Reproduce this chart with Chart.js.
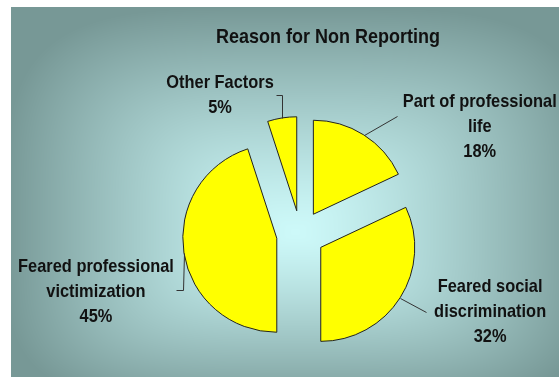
<!DOCTYPE html>
<html>
<head>
<meta charset="utf-8">
<title>Reason for Non Reporting</title>
<script src="https://cdn.jsdelivr.net/npm/chart.js@4/dist/chart.umd.min.js"></script>
<style>
    html, body { margin: 0; padding: 0; background: #ffffff; }
    #wrap { position: relative; width: 559px; height: 377px; }
</style>
</head>
<body>
<div id="wrap"><canvas id="reasonChart" width="559" height="377"></canvas></div>
<script>
// Survey data
const categories = ['Part of professional life', 'Feared social discrimination', 'Feared professional victimization', 'Other Factors'];
const labelLines = [['Part of professional', 'life'], ['Feared social', 'discrimination'], ['Feared professional', 'victimization'], ['Other Factors']];
const percentages = [18, 32, 45, 5];

// How far every slice is pulled out from the centre (px)
const EXPLODE = 24;

// Label placement relative to the outer edge of each slice
const labelLayout = [
    { leader: [[0, 0], [33, -19]], dx: 116, dy: -33 },
    { leader: [[0, 0], [26, 14]], dx: 90, dy: -11 },
    { leader: [[0, 0], [-1, 37], [-8, 37]], dx: -88, dy: 14 },
    { leader: [[0, 0], [0, -23], [-6, -23]], dx: -62, dy: -35 }
];

const FONT = '"Liberation Sans", Arial, sans-serif';

function drawTallText(ctx, text, x, y, size, stretch) {
    ctx.save();
    ctx.translate(x, y);
    ctx.scale(1, stretch);
    ctx.font = `bold ${size}px ${FONT}`;
    ctx.fillText(text, 0, 0);
    ctx.restore();
}

function hexToRgb(hex) {
    const n = parseInt(hex.slice(1), 16);
    return [(n >> 16) & 255, (n >> 8) & 255, n & 255];
}

// Soft rectangular gradient, light in the middle, teal-grey towards the edges
function buildBackground(w, h) {
    const off = document.createElement('canvas');
    off.width = w;
    off.height = h;
    const octx = off.getContext('2d');
    const img = octx.createImageData(w, h);
    const inner = hexToRgb('#cdf9f9');
    const outer = hexToRgb('#779896');
    const cx = 295, cy = 232;
    for (let py = 0; py < h; py++) {
        const dy = py - cy;
        const ny = Math.abs(dy) / (dy < 0 ? 225 : 175);
        for (let px = 0; px < w; px++) {
            const dx = px - cx;
            const nx = Math.abs(dx) / (dx < 0 ? 290 : 300);
            let t = Math.pow(Math.pow(nx, 4) + Math.pow(ny, 4), 0.25);
            t = Math.min(1, Math.pow(t, 1.25));
            const i = (py * w + px) * 4;
            img.data[i] = inner[0] + (outer[0] - inner[0]) * t;
            img.data[i + 1] = inner[1] + (outer[1] - inner[1]) * t;
            img.data[i + 2] = inner[2] + (outer[2] - inner[2]) * t;
            img.data[i + 3] = 255;
        }
    }
    octx.putImageData(img, 0, 0);
    return off;
}

const panelBackground = {
    id: 'panelBackground',
    beforeDraw(chart) {
        const ctx = chart.ctx;
        if (!this.image) this.image = buildBackground(chart.width, chart.height);
        ctx.save();
        ctx.beginPath();
        ctx.rect(11, 7, chart.width - 11, chart.height - 7);
        ctx.clip();
        ctx.drawImage(this.image, 0, 0);
        ctx.restore();

        ctx.save();
        ctx.fillStyle = '#111111';
        ctx.textAlign = 'center';
        ctx.textBaseline = 'middle';
        drawTallText(ctx, 'Reason for Non Reporting', 328, 37, 18, 1.12);
        ctx.restore();
    }
};

// Pull each slice outward along its mid angle, keeping the radius unchanged
const explodeSlices = {
    id: 'explodeSlices',
    afterDatasetUpdate(chart, args) {
        args.meta.data.forEach(arc => {
            const mid = (arc.startAngle + arc.endAngle) / 2;
            arc.x += Math.cos(mid) * EXPLODE;
            arc.y += Math.sin(mid) * EXPLODE;
        });
    }
};

// Slice labels with leader lines
const sliceLabels = {
    id: 'sliceLabels',
    afterDatasetsDraw(chart) {
        const ctx = chart.ctx;
        const meta = chart.getDatasetMeta(0);

        ctx.save();
        ctx.strokeStyle = '#333333';
        ctx.lineWidth = 1;
        ctx.fillStyle = '#111111';
        ctx.textAlign = 'center';
        ctx.textBaseline = 'middle';

        meta.data.forEach((arc, i) => {
            const mid = (arc.startAngle + arc.endAngle) / 2;
            const px = arc.x + Math.cos(mid) * arc.outerRadius;
            const py = arc.y + Math.sin(mid) * arc.outerRadius;
            const layout = labelLayout[i];

            ctx.beginPath();
            layout.leader.forEach(([lx, ly], k) => {
                const x = Math.round(px + lx) + 0.5, y = Math.round(py + ly) + 0.5;
                if (k === 0) ctx.moveTo(x, y);
                else ctx.lineTo(x, y);
            });
            ctx.stroke();

            const lines = labelLines[i].concat(`${percentages[i]}%`);
            lines.forEach((line, k) => {
                drawTallText(ctx, line, px + layout.dx, py + layout.dy + k * 25, 16.4, 1.12);
            });
        });
        ctx.restore();
    }
};

const ctx = document.getElementById('reasonChart').getContext('2d');
new Chart(ctx, {
    type: 'pie',
    data: {
        labels: categories,
        datasets: [{
            data: percentages,
            backgroundColor: '#ffff00',
            borderColor: '#222222',
            borderWidth: 1,
            radius: 94
        }]
    },
    options: {
        responsive: false,
        animation: false,
        devicePixelRatio: 1,
        layout: { padding: { left: 200.5, right: 158.5, top: 134.5, bottom: 42.5 } },
        plugins: {
            legend: { display: false },
            tooltip: { enabled: false },
            title: { display: false }
        }
    },
    plugins: [panelBackground, explodeSlices, sliceLabels]
});
</script>
</body>
</html>
